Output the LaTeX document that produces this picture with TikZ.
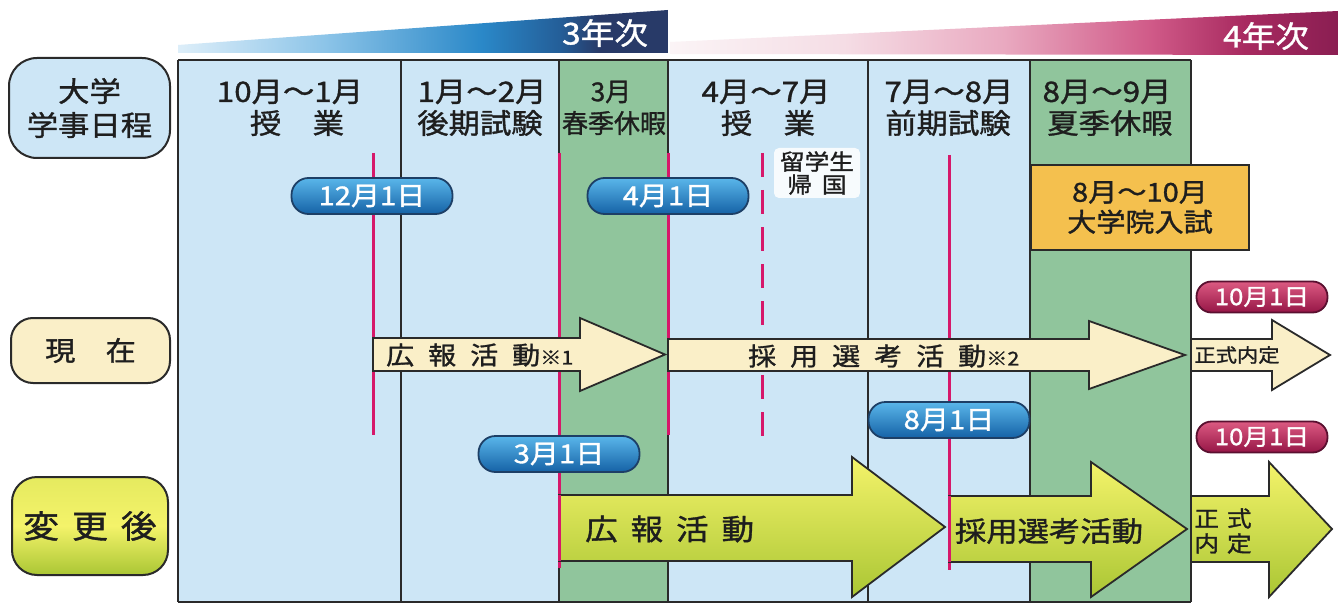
\documentclass[tikz,border=0pt]{standalone}
\usepackage{fontspec}
\newfontfamily\jp[FakeStretch=1.12,FakeBold=1.2]{Noto Sans CJK JP}
\newfontfamily\jpn[FakeBold=1.2]{Noto Sans CJK JP}
\definecolor{lblue}{HTML}{CDE6F6}
\definecolor{lgreen}{HTML}{90C59C}
\definecolor{linegray}{HTML}{2A2A2A}
\definecolor{redl}{HTML}{D6186A}
\definecolor{txt}{HTML}{1E1E1E}
\definecolor{cream}{HTML}{FAEFC8}
\definecolor{orangebox}{HTML}{F4C04E}
\definecolor{pillt}{HTML}{5AB6EA}
\definecolor{pillb}{HTML}{1562A6}
\definecolor{pilld}{HTML}{1D3F66}
\definecolor{rpillt}{HTML}{DC5A82}
\definecolor{rpillb}{HTML}{961646}
\definecolor{rpilld}{HTML}{5A1030}
\definecolor{ygt}{HTML}{F4F36A}
\definecolor{ygb}{HTML}{AAC634}
\definecolor{y3a}{HTML}{DDEEF9}
\definecolor{y3b}{HTML}{8CC4E8}
\definecolor{y3c}{HTML}{2A88C8}
\definecolor{y3d}{HTML}{245E98}
\definecolor{y3e}{HTML}{283A68}
\definecolor{y4a}{HTML}{FBF4F6}
\definecolor{y4b}{HTML}{F5DDE5}
\definecolor{y4c}{HTML}{E9A9C0}
\definecolor{y4d}{HTML}{D05A88}
\definecolor{y4e}{HTML}{A82A60}
\definecolor{y4f}{HTML}{8A1E52}
\pgfdeclarehorizontalshading{yearthree}{100bp}{color(0bp)=(y3a); color(25bp)=(y3a); color(40bp)=(y3b); color(56bp)=(y3c); color(64bp)=(y3d); color(68bp)=(y3e); color(100bp)=(y3e)}
\pgfdeclarehorizontalshading{yearfour}{100bp}{color(0bp)=(y4a); color(25bp)=(y4a); color(38bp)=(y4b); color(50bp)=(y4c); color(61bp)=(y4d); color(68bp)=(y4e); color(75bp)=(y4f); color(100bp)=(y4f)}
\tikzset{
  colline/.style={line width=2.2pt, draw=linegray},
  redline/.style={line width=3pt, draw=redl},
  hdr/.style={font=\jp\fontsize{28}{28}\selectfont, text=txt, inner sep=0pt},
  hdrn/.style={font=\jpn\fontsize{26}{26}\selectfont, text=txt, inner sep=0pt},
  yeartxt/.style={font=\jp\fontsize{30}{30}\selectfont, text=white, inner sep=0pt},
  labelbox/.style={draw=linegray, line width=2pt, text=txt, align=center, inner sep=0pt},
  bluepill/.style={rounded corners=17pt, minimum width=161pt, minimum height=36pt, top color=pillt, bottom color=pillb, draw=pilld, line width=1.8pt, text=white, font=\jp\fontsize{26}{26}\selectfont, inner sep=0pt},
  redpill/.style={rounded corners=15pt, minimum width=131pt, minimum height=31pt, top color=rpillt, bottom color=rpillb, draw=rpilld, line width=1.8pt, text=white, font=\jp\fontsize{23}{23}\selectfont, inner sep=0pt},
  nowarrow/.style={fill=cream, draw=linegray, line width=1.8pt, line join=miter},
  newarrow/.style={top color=ygt, bottom color=ygb, draw=linegray, line width=1.8pt, line join=miter},
  arrtxt/.style={text=txt, inner sep=0pt}
}
\begin{document}
\begin{tikzpicture}[x=1pt,y=-1pt]
\useasboundingbox (0,0) rectangle (1338,604);
\fill[white] (0,0) rectangle (1338,604);

% year banners
\shade[shading=yearthree] (178,53) -- (178,45) -- (668,10) -- (668,53) -- cycle;
\shade[shading=yearfour] (670,54) -- (670,42) -- (1338,11) -- (1338,55) -- cycle;
\node[yeartxt] (y3) at (605,33) {3年次};
\node[yeartxt] (y4) at (1266,36) {4年次};

% columns
\fill[lblue] (178,60) rectangle (559,602);
\fill[lblue] (668,60) rectangle (1030,602);
\fill[lgreen] (559,60) rectangle (668,602);
\fill[lgreen] (1030,60) rectangle (1191,602);
\draw[colline] (178,60) -- (1191,60);
\draw[colline] (178,602) -- (1191,602);
\foreach \x in {178,401,559,668,868,1030,1191} \draw[colline] (\x,60) -- (\x,602);

% column headers
\node[hdr] (h0a) at (290,92) {10月～1月};
\node[hdr] (h0b) at (297,123) {授　業};
\node[hdr] (h1a) at (482,92) {1月～2月};
\node[hdr] (h1b) at (480,123) {後期試験};
\node[hdrn] (h2a) at (611,92) {3月};
\node[hdrn] (h2b) at (614,123) {春季休暇};
\node[hdr] (h3a) at (766,92) {4月～7月};
\node[hdr] (h3b) at (768,123) {授　業};
\node[hdr] (h4a) at (949,92) {7月～8月};
\node[hdr] (h4b) at (948,123) {前期試験};
\node[hdr] (h5a) at (1107,92) {8月～9月};
\node[hdr] (h5b) at (1110,123) {夏季休暇};

% left labels
\node[labelbox, fill=lblue, rounded corners=28pt, minimum width=161pt, minimum height=100pt,
  font=\jp\fontsize{28}{34}\selectfont] (lab1) at (89.5,108) {大学\\学事日程};
\node[labelbox, fill=cream, rounded corners=22pt, minimum width=159pt, minimum height=65pt,
  font=\jp\fontsize{27}{27}\selectfont] (lab2) at (90.5,350.5) {現　在};
\node[labelbox, top color=ygt!80!ygb, bottom color=ygb, middle color=ygt, rounded corners=25pt, minimum width=156pt, minimum height=98pt,
  font=\jp\fontsize{32}{32}\selectfont] (lab3) at (90,526) {変\kern13pt 更\kern13pt 後};

% grad school exam box and returnees note
\node[labelbox, fill=orangebox, minimum width=218pt, minimum height=85pt,
  font=\jp\fontsize{26}{30}\selectfont] (grad) at (1140,207.5) {8月～10月\\大学院入試};
\node[fill=white, fill opacity=0.85, text opacity=1, rounded corners=5pt, minimum width=86pt, minimum height=50pt,
  align=center, text=txt, inner sep=0pt, font=\jp\fontsize{22}{23}\selectfont] (ryu) at (817,173) {留学生\\帰\kern10pt 国};

% red marker lines
\draw[redline] (373,153) -- (373,435);
\draw[redline] (559,153) -- (559,568);
\draw[redline] (668,153) -- (668,435);
\draw[redline, dash pattern=on 24pt off 13pt] (762,153) -- (762,437);
\draw[redline] (949,155) -- (949,570);

% current arrows
\draw[nowarrow] (373,338) -- (580,338) -- (580,318) -- (665,354.5) -- (580,391) -- (580,371) -- (373,371) -- cycle;
\draw[nowarrow] (668,339) -- (1089,339) -- (1089,321) -- (1185,355) -- (1089,389) -- (1089,371) -- (668,371) -- cycle;
\draw[nowarrow] (1191,339) -- (1272,339) -- (1272,320) -- (1330,355) -- (1272,390) -- (1272,371) -- (1191,371) -- cycle;
\node[arrtxt, anchor=west, font=\jp\fontsize{25}{25}\selectfont] (t1) at (386,355)
  {広\kern14pt 報\kern14pt 活\kern14pt 動{\fontsize{19}{19}\selectfont ※1}};
\node[arrtxt, anchor=west, font=\jp\fontsize{25}{25}\selectfont] (t2) at (748,356)
  {採\kern14pt 用\kern14pt 選\kern14pt 考\kern14pt 活\kern14pt 動{\fontsize{19}{19}\selectfont ※2}};
\node[arrtxt, font=\jp\fontsize{19}{19}\selectfont] (t3) at (1237,355) {正式内定};

% new arrows
\draw[newarrow] (559,495) -- (852,495) -- (852,457) -- (945,527) -- (852,597) -- (852,561) -- (559,561) -- cycle;
\draw[newarrow] (949,496) -- (1091,496) -- (1091,462) -- (1187,529) -- (1091,597) -- (1091,562) -- (949,562) -- cycle;
\draw[newarrow] (1191,496) -- (1269,496) -- (1269,462) -- (1332,529) -- (1269,597) -- (1269,562) -- (1191,562) -- cycle;
\draw[redline] (559,495) -- (559,561);
\draw[redline] (949,496) -- (949,562);
\node[arrtxt, anchor=west, font=\jp\fontsize{29}{29}\selectfont] (tA) at (585,529)
  {広\kern13pt 報\kern13pt 活\kern13pt 動};
\node[arrtxt, font=\jp\fontsize{28}{28}\selectfont] (tB) at (1049,531) {採用選考活動};
\node[arrtxt, align=center, font=\jp\fontsize{22}{25}\selectfont] (tC) at (1223,531) {正\kern8pt 式\\内\kern8pt 定};

% date pills
\node[bluepill] (d1) at (372,196) {12月1日};
\node[bluepill] (d2) at (668,196) {4月1日};
\node[bluepill] (d3) at (559,454) {3月1日};
\node[bluepill] (d4) at (949,420) {8月1日};
\node[redpill] (d5) at (1262,297) {10月1日};
\node[redpill] (d6) at (1262,437) {10月1日};
\end{tikzpicture}
\end{document}
